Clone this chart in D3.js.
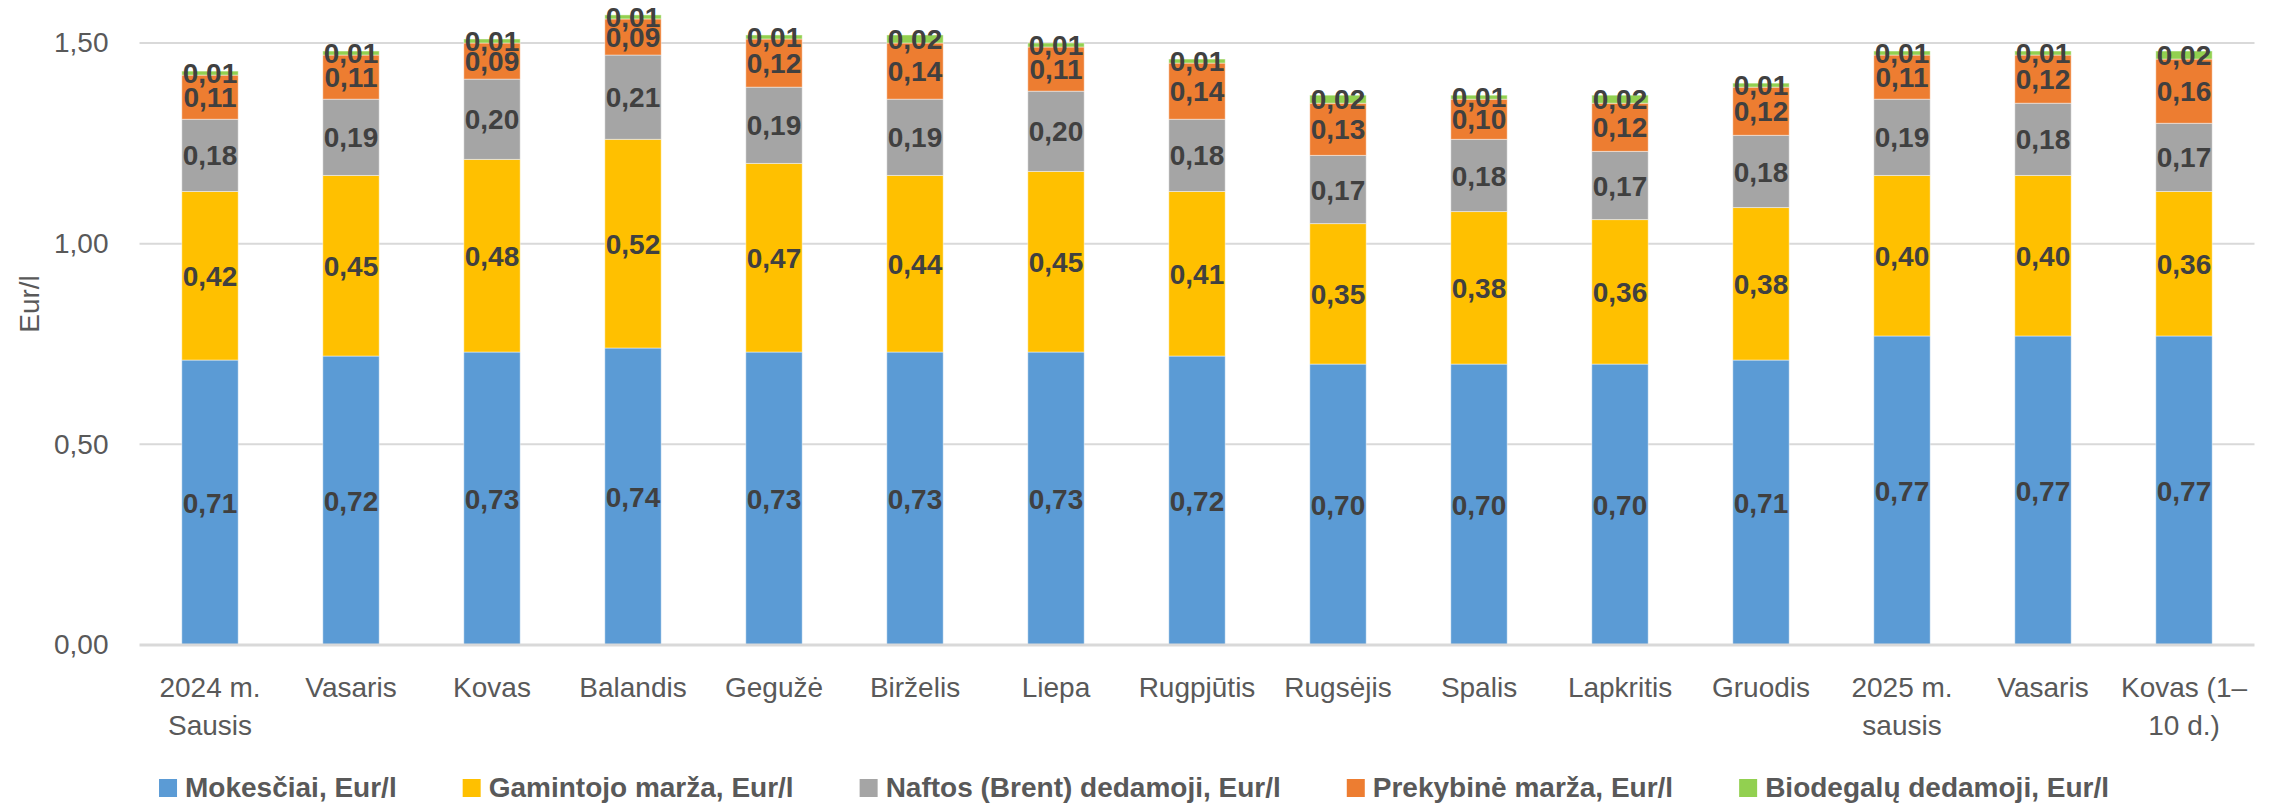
<!DOCTYPE html>
<html>
<head>
<meta charset="utf-8">
<script src="https://cdn.jsdelivr.net/npm/d3@7"></script>
<style>
  html, body { margin: 0; padding: 0; background: #fff; }
  svg { display: block; font-family: "Liberation Sans", Arial, sans-serif; }
</style>
</head>
<body>
<svg id="chart" width="2272" height="803"></svg>
<script>
// ---- data ----
const months = ["2024 m.|Sausis", "Vasaris", "Kovas", "Balandis", "Gegužė", "Birželis", "Liepa",
  "Rugpjūtis", "Rugsėjis", "Spalis", "Lapkritis", "Gruodis", "2025 m.|sausis", "Vasaris", "Kovas (1–|10 d.)"];
const seriesNames = ["Mokesčiai, Eur/l", "Gamintojo marža, Eur/l", "Naftos (Brent) dedamoji, Eur/l",
  "Prekybinė marža, Eur/l", "Biodegalų dedamoji, Eur/l"];
const mokesciai = [0.71, 0.72, 0.73, 0.74, 0.73, 0.73, 0.73, 0.72, 0.70, 0.70, 0.70, 0.71, 0.77, 0.77, 0.77];
const gamintojo = [0.42, 0.45, 0.48, 0.52, 0.47, 0.44, 0.45, 0.41, 0.35, 0.38, 0.36, 0.38, 0.40, 0.40, 0.36];
const naftos    = [0.18, 0.19, 0.20, 0.21, 0.19, 0.19, 0.20, 0.18, 0.17, 0.18, 0.17, 0.18, 0.19, 0.18, 0.17];
const prekybine = [0.11, 0.11, 0.09, 0.09, 0.12, 0.14, 0.11, 0.14, 0.13, 0.10, 0.12, 0.12, 0.11, 0.12, 0.16];
const biodegalu = [0.01, 0.01, 0.01, 0.01, 0.01, 0.02, 0.01, 0.01, 0.02, 0.01, 0.02, 0.01, 0.01, 0.01, 0.02];
const yTicks = [0, 0.5, 1.0, 1.5];

const colors = ["#5b9bd5", "#ffc000", "#a5a5a5", "#ed7d31", "#92d050"];
const seriesVals = [mokesciai, gamintojo, naftos, prekybine, biodegalu];

// lithuanian number format: comma decimal
const lt = d3.formatLocale({ decimal: ",", thousands: " ", grouping: [3], currency: ["", " €"] });
const f2 = lt.format(".2f");

const svg = d3.select("#chart");
const plot = { left: 139.5, right: 2254.5, top: 43, bottom: 645 };

const x = d3.scaleBand().domain(d3.range(months.length))
  .range([plot.left, plot.right]).paddingInner(0.6).paddingOuter(0.3);
const y = d3.scaleLinear().domain([0, 1.5]).range([plot.bottom, plot.top]);

// gridlines
svg.append("g").selectAll("line").data(yTicks.filter(t => t > 0)).join("line")
  .attr("x1", plot.left).attr("x2", plot.right)
  .attr("y1", d => y(d)).attr("y2", d => y(d))
  .attr("stroke", "#d9d9d9").attr("stroke-width", 2);

// y axis labels
const yAxis = svg.append("g").attr("transform", `translate(${plot.left},0)`)
  .call(d3.axisLeft(y).tickValues(yTicks).tickFormat(f2).tickSize(0).tickPadding(31));
yAxis.select(".domain").remove();
yAxis.selectAll("text").attr("font-size", 28).attr("fill", "#595959")
  .attr("font-family", "Liberation Sans, Arial, sans-serif");

// axis title
svg.append("text").attr("transform", "translate(39,304) rotate(-90)")
  .attr("text-anchor", "middle").attr("font-size", 28).attr("fill", "#595959").text("Eur/l");

// stacked bars
const rows = months.map((m, i) => {
  const r = { i };
  seriesNames.forEach((s, k) => r[k] = seriesVals[k][i]);
  return r;
});
const stacked = d3.stack().keys(d3.range(seriesNames.length))(rows);

const layers = svg.append("g").selectAll("g").data(stacked).join("g")
  .attr("fill", (d, k) => colors[k]);
layers.selectAll("rect").data(d => d).join("rect")
  .attr("x", d => x(d.data.i)).attr("width", x.bandwidth())
  .attr("y", d => y(d[1])).attr("height", d => y(d[0]) - y(d[1]))
  .attr("stroke", "#ffffff").attr("stroke-opacity", 0.45).attr("stroke-width", 1);

// x axis line
svg.append("line").attr("x1", plot.left).attr("x2", plot.right)
  .attr("y1", y(0)).attr("y2", y(0)).attr("stroke", "#d9d9d9").attr("stroke-width", 3);

// data labels
const labels = svg.append("g");
stacked.forEach((layer, k) => {
  labels.selectAll(null).data(layer).join("text")
    .attr("x", d => x(d.data.i) + x.bandwidth() / 2)
    .attr("y", d => (y(d[0]) + y(d[1])) / 2)
    .attr("dy", "0.36em").attr("text-anchor", "middle")
    .attr("font-size", 28).attr("font-weight", "bold").attr("fill", "#404040")
    .text(d => f2(d[1] - d[0]));
});

// x axis labels (two-line)
const xAxis = svg.append("g").attr("transform", `translate(0,${plot.bottom})`)
  .call(d3.axisBottom(x).tickSize(0).tickFormat(i => months[i]));
xAxis.select(".domain").remove();
xAxis.selectAll("text").each(function (i) {
  const t = d3.select(this).text(null).attr("y", 52).attr("dy", null)
    .attr("font-size", 28).attr("fill", "#595959")
    .attr("font-family", "Liberation Sans, Arial, sans-serif");
  months[i].split("|").forEach((line, j) => {
    t.append("tspan").attr("x", 0).attr("y", 52 + j * 38).text(line);
  });
});

// legend
const legend = svg.append("g").attr("font-size", 28).attr("font-weight", "bold").attr("fill", "#595959");
const items = legend.selectAll("g").data(seriesNames).join("g");
items.append("rect").attr("width", 18).attr("height", 18).attr("y", 779).attr("fill", (d, k) => colors[k]);
items.append("text").attr("x", 26).attr("y", 797).text(d => d);
let cx = 0;
const gap = 66;
items.each(function () {
  const w = 26 + d3.select(this).select("text").node().getComputedTextLength();
  d3.select(this).attr("transform", `translate(${cx},0)`);
  cx += w + gap;
});
const total = cx - gap;
legend.attr("transform", `translate(${1134 - total / 2},0)`);
</script>
</body>
</html>
